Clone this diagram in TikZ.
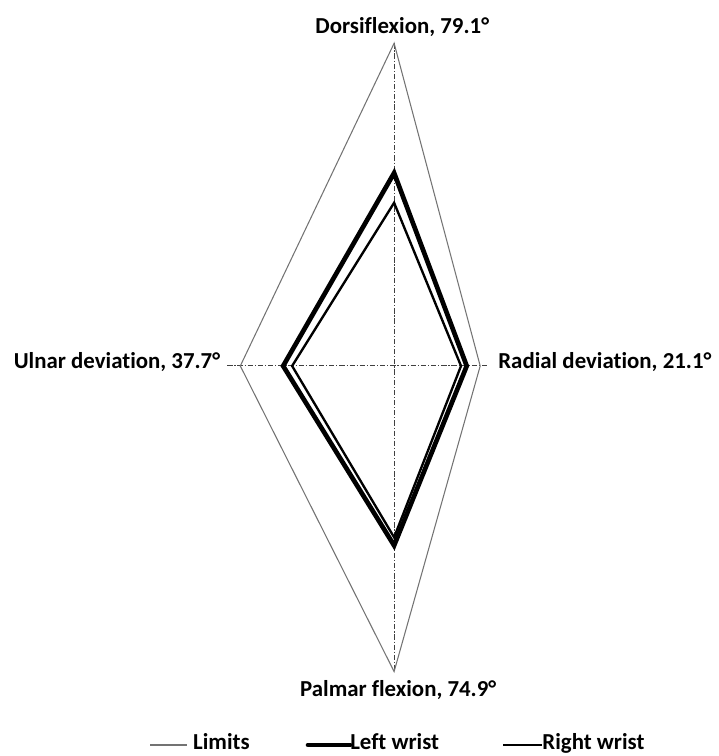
\documentclass[tikz,border=0pt]{standalone}
\usepackage{fontspec}
\setmainfont{Carlito}[Ligatures={NoCommon,NoContextual,NoRequired}]
\usetikzlibrary{positioning}

\tikzset{
  limits/.style={draw=black!55, line width=0.9pt},
  leftwrist/.style={draw=black, line width=4pt},
  rightwrist/.style={draw=black, line width=2pt},
  axisline/.style={draw=black!75, line width=0.8pt, dash pattern=on 4.5pt off 1.6pt on 1pt off 1.6pt},
  lbl/.style={font=\bfseries\fontsize{19.5}{23}\selectfont, inner sep=0pt}
}

\begin{document}
\begin{tikzpicture}[x=1.224mm,y=1.224mm]
\useasboundingbox (-96.6,-95.6) rectangle (79.6,89.7);

% limits
\coordinate (D) at (0,79.1);
\coordinate (R) at (21.1,0);
\coordinate (P) at (0,-74.9);
\coordinate (U) at (-37.7,0);
\coordinate (axL) at (-40.9,0);
\coordinate (axR) at (23,0);

% left wrist
\coordinate (lD) at (0,47.3);
\coordinate (lR) at (17.8,0);
\coordinate (lP) at (0,-44);
\coordinate (lU) at (-27.2,0);

% right wrist
\coordinate (rD) at (0,40);
\coordinate (rR) at (16.4,0);
\coordinate (rP) at (0,-42);
\coordinate (rU) at (-25,0);

\draw[axisline] (D) -- (P);
\draw[axisline] (axL) -- (axR);

\draw[limits] (D) -- (R) -- (P) -- (U) -- cycle;
\draw[leftwrist] (lD) -- (lR) -- (lP) -- (lU) -- cycle;
\draw[rightwrist] (rD) -- (rR) -- (rP) -- (rU) -- cycle;

\node[lbl, anchor=base] (dorsi) at (2,81.6) {Dorsiflexion, 79.1°};
\node[lbl, anchor=base] (palmar) at (1,-81.1) {Palmar flexion, 74.9°};
\node[lbl, anchor=base east] (ulnar) at (-42.6,-0.7) {Ulnar deviation, 37.7°};
\node[lbl, anchor=base west] (radial) at (25.5,-0.7) {Radial deviation, 21.1°};

% legend
\coordinate (limA) at (-59.8,-92.9);
\coordinate (limB) at (-50.7,-92.9);
\node[lbl, anchor=base west] (limtxt) at (-49.3,-94.1) {Limits};
\draw[limits] (limA) -- (limB);

\coordinate (lwA) at (-21.1,-92.9);
\coordinate (lwB) at (-10.8,-92.9);
\node[lbl, anchor=base west] (lwtxt) at (-10.8,-94.1) {Left wrist};
\draw[leftwrist, line cap=round] (lwA) -- (lwB);

\coordinate (rwA) at (26.7,-92.9);
\coordinate (rwB) at (36.3,-92.9);
\node[lbl, anchor=base west] (rwtxt) at (36.3,-94.1) {Right wrist};
\draw[rightwrist] (rwA) -- (rwB);
\end{tikzpicture}
\end{document}
